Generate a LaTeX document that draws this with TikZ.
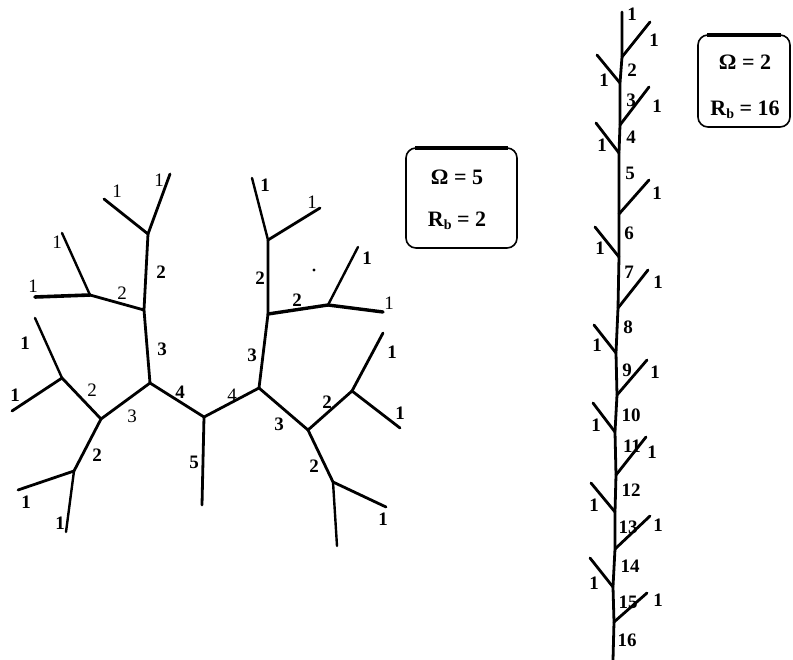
\documentclass[tikz,border=0pt]{standalone}
\usepackage{fontspec}
\setmainfont{Liberation Serif}
\begin{document}
\begin{tikzpicture}[x=1pt,y=-1pt,
  br/.style={line width=2.8pt,line cap=round,line join=round},
  lf/.style={line width=2.4pt,line cap=round},
  lab/.style={font=\fontsize{19}{19}\selectfont,inner sep=0pt},
  blab/.style={font=\fontsize{19}{19}\selectfont\bfseries,inner sep=0pt},
  infobox/.style={draw,line width=1.6pt,rounded corners=10pt,inner sep=0pt},
  boxtxt/.style={font=\fontsize{22}{22}\selectfont\bfseries,inner sep=0pt}]
\useasboundingbox (0,0) rectangle (793,660);
% ---------- left tree: junctions ----------
\coordinate (A) at (148,234);
\coordinate (B) at (144,310);
\coordinate (C) at (90,295);
\coordinate (D) at (150,383);
\coordinate (E) at (101,419);
\coordinate (F) at (62,378);
\coordinate (G) at (74,471);
\coordinate (H) at (204,417);
\coordinate (I) at (259,388);
\coordinate (J) at (268,314);
\coordinate (N) at (268,240);
\coordinate (O) at (328,305);
\coordinate (K) at (308,430);
\coordinate (L) at (352,391);
\coordinate (M) at (333,482);
% leaves
\coordinate (a1) at (104,199);
\coordinate (a2) at (170,174);
\coordinate (c1) at (35,297);
\coordinate (c2) at (62,233);
\coordinate (f1) at (35,318);
\coordinate (f2) at (12,411);
\coordinate (g1) at (18,490);
\coordinate (g2) at (66,532);
\coordinate (h1) at (202,505);
\coordinate (n1) at (252,178);
\coordinate (n2) at (320,208);
\coordinate (o1) at (358,247);
\coordinate (o2) at (383,312);
\coordinate (l1) at (383,333);
\coordinate (l2) at (400,428);
\coordinate (m1) at (386,507);
\coordinate (m2) at (337,546);
% branches
\draw[br] (a1) -- (A) -- (a2);
\draw[br] (A) -- (B) -- (D) -- (H) -- (I) -- (J) -- (N);
\draw[br] (B) -- (C);
\draw[br, line width=3.6pt] (C) -- (c1);
\draw[lf] (C) -- (c2);
\draw[br] (D) -- (E) -- (F);
\draw[br] (E) -- (G);
\draw[lf] (F) -- (f1);
\draw[br] (F) -- (f2);
\draw[br] (G) -- (g1);
\draw[lf] (G) -- (g2);
\draw[br] (H) -- (h1);
\draw[lf] (N) -- (n1);
\draw[br] (N) -- (n2);
\draw[br, line width=3.4pt] (J) -- (O) -- (o2);
\draw[lf] (O) -- (o1);
\draw[br] (I) -- (K) -- (L);
\draw[br] (L) -- (l1);
\draw[br] (L) -- (l2);
\draw[br] (K) -- (M);
\draw[br] (M) -- (m1);
\draw[lf] (M) -- (m2);
% labels
\node[lab] (la1) at (117,191) {1};
\node[lab] (la2) at (159,180) {1};
\node[blab] (lab) at (161,272) {2};
\node[lab] (lbc) at (122,293) {2};
\node[lab] (lc1) at (33,286) {1};
\node[lab] (lc2) at (57,242) {1};
\node[blab] (lbd) at (162,349) {3};
\node[lab] (lde) at (132,416) {3};
\node[lab] (lef) at (92,390) {2};
\node[blab] (lf1) at (25,343) {1};
\node[blab] (lf2) at (15,395) {1};
\node[blab] (leg) at (97,455) {2};
\node[blab] (lg1) at (26,502) {1};
\node[blab] (lg2) at (60,523) {1};
\node[blab] (ldh) at (180,392) {4};
\node[blab] (lh1) at (194,462) {5};
\node[lab] (lhi) at (232,395) {4};
\node[blab] (lij) at (252,355) {3};
\node[blab] (ljn) at (260,278) {2};
\node[blab] (ln1) at (265,185) {1};
\node[lab] (ln2) at (312,202) {1};
\node[blab] (ljo) at (297,300) {2};
\node[blab] (lo1) at (367,258) {1};
\node[lab] (lo2) at (389,303) {1};
\node[blab] (lik) at (279,424) {3};
\node[blab] (lkl) at (327,402) {2};
\node[blab] (ll1) at (392,352) {1};
\node[blab] (ll2) at (400,413) {1};
\node[blab] (lkm) at (314,466) {2};
\node[blab] (lm1) at (383,519) {1};
\fill (314,270) circle (1.6pt);
% box 1
\node[infobox, minimum width=111pt, minimum height=100pt] (box1) at (461.5,198) {};
\draw[line width=4pt] ([xshift=10pt,yshift=-1pt]box1.north west) -- ([xshift=-10pt,yshift=-1pt]box1.north east);
\node[boxtxt] (om1) at (457,177) {Ω = 5};
\node[boxtxt] (rb1) at (457,221) {R\raisebox{-0.35ex}{\fontsize{14}{14}\selectfont b} = 2};
% ---------- right tree ----------
\coordinate (s0) at (622,12);
\coordinate (s1) at (622,57);
\coordinate (s2) at (620,83);
\coordinate (s3) at (620,125);
\coordinate (s4) at (619,153);
\coordinate (s5) at (619,214);
\coordinate (s6) at (619,257);
\coordinate (s7) at (618,308);
\coordinate (s8) at (616,353);
\coordinate (s9) at (617,395);
\coordinate (s10) at (615,432);
\coordinate (s11) at (616,475);
\coordinate (s12) at (615,512);
\coordinate (s13) at (615,549);
\coordinate (s14) at (613,587);
\coordinate (s15) at (614,622);
\coordinate (s16) at (613,660);
\draw[br] (s0) -- (s1) -- (s2) -- (s3) -- (s4) -- (s5) -- (s6) -- (s7) -- (s8)
  -- (s9) -- (s10) -- (s11) -- (s12) -- (s13) -- (s14) -- (s15) -- (s16);
\coordinate (t1) at (650,22);
\coordinate (t2) at (597,55);
\coordinate (t3) at (649,87);
\coordinate (t4) at (596,123);
\coordinate (t5) at (649,180);
\coordinate (t6) at (595,227);
\coordinate (t7) at (648,270);
\coordinate (t8) at (594,325);
\coordinate (t9) at (647,360);
\coordinate (t10) at (593,403);
\coordinate (t11) at (646,437);
\coordinate (t12) at (591,483);
\coordinate (t13) at (650,516);
\coordinate (t14) at (590,558);
\coordinate (t15) at (647,593);
\foreach \i in {1,...,15} { \draw[br] (s\i) -- (t\i); }
% stem order labels
\node[blab] (r1) at (632,14) {1};
\node[blab] (r2) at (632,70) {2};
\node[blab] (r3) at (631,100) {3};
\node[blab] (r4) at (631,137) {4};
\node[blab] (r5) at (630,173) {5};
\node[blab] (r6) at (629,233) {6};
\node[blab] (r7) at (629,272) {7};
\node[blab] (r8) at (628,327) {8};
\node[blab] (r9) at (627,370) {9};
\node[blab] (r10) at (631,415) {10};
\node[blab] (r11) at (632,446) {11};
\node[blab] (r12) at (631,490) {12};
\node[blab] (r13) at (628,527) {13};
\node[blab] (r14) at (630,566) {14};
\node[blab] (r15) at (628,602) {15};
\node[blab] (r16) at (627,640) {16};
% side-branch order labels
\node[blab] (q1) at (654,40) {1};
\node[blab] (q2) at (604,80) {1};
\node[blab] (q3) at (657,106) {1};
\node[blab] (q4) at (602,145) {1};
\node[blab] (q5) at (657,193) {1};
\node[blab] (q6) at (600,248) {1};
\node[blab] (q7) at (658,282) {1};
\node[blab] (q8) at (597,345) {1};
\node[blab] (q9) at (655,372) {1};
\node[blab] (q10) at (596,425) {1};
\node[blab] (q11) at (652,452) {1};
\node[blab] (q12) at (594,505) {1};
\node[blab] (q13) at (658,525) {1};
\node[blab] (q14) at (594,583) {1};
\node[blab] (q15) at (658,600) {1};
% box 2
\node[infobox, minimum width=92pt, minimum height=92pt] (box2) at (744,81) {};
\draw[line width=4pt] ([xshift=10pt,yshift=-1pt]box2.north west) -- ([xshift=-10pt,yshift=-1pt]box2.north east);
\node[boxtxt] (om2) at (745,62) {Ω = 2};
\node[boxtxt] (rb2) at (745,110) {R\raisebox{-0.35ex}{\fontsize{14}{14}\selectfont b} = 16};
\end{tikzpicture}
\end{document}
